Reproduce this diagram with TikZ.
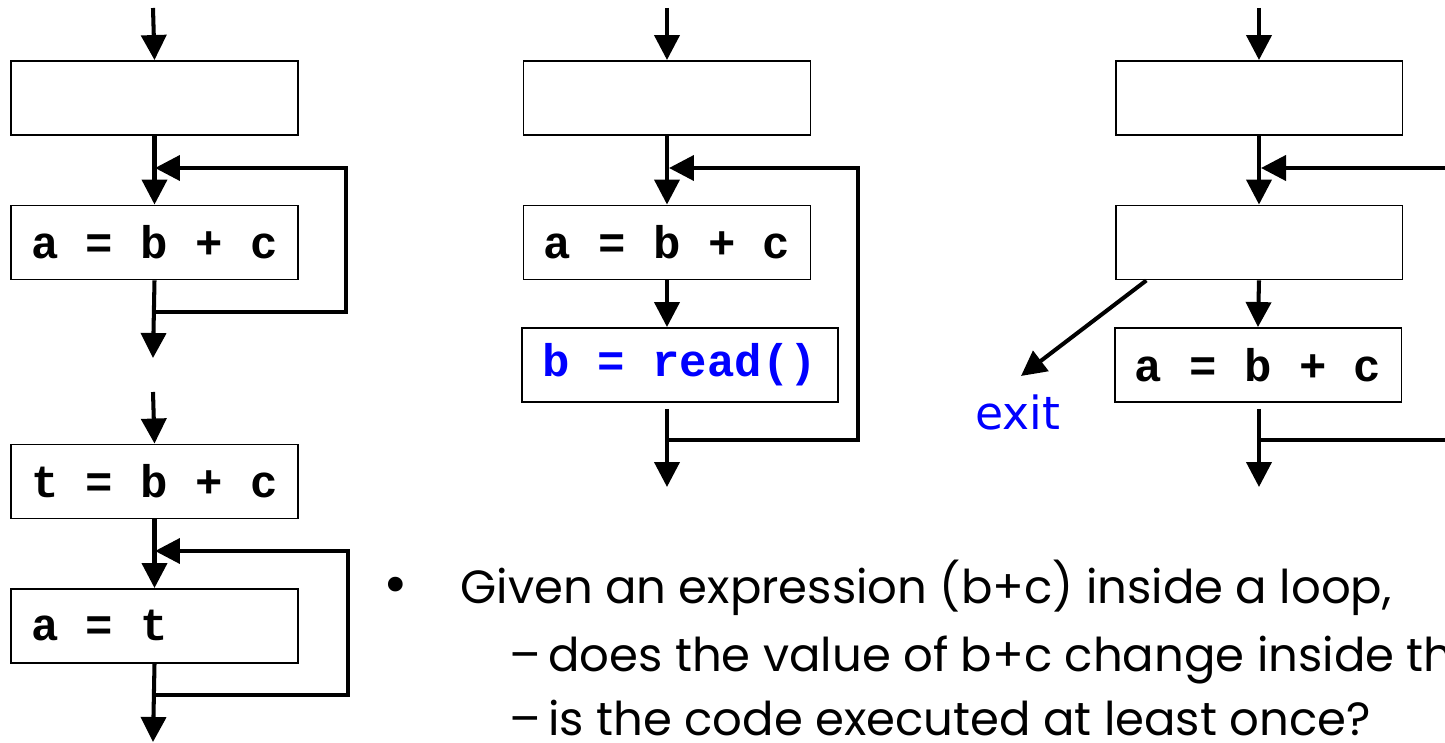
\documentclass[tikz,border=0pt]{standalone}
\usepackage{fontspec}
\setmainfont{Poppins}
\setmonofont{Liberation Mono}
\newfontfamily\exitfont{DejaVu Sans}
\usepackage{tikz}
\usetikzlibrary{arrows.meta,calc,positioning}
\definecolor{codeblue}{RGB}{0,0,255}

\begin{document}
\begin{tikzpicture}[
  x=0.02cm, y=-0.02cm,
  line join=miter,
  stmt/.style={
    rectangle, draw=black, line width=1.1pt,
    minimum width=5.74cm, minimum height=1.48cm,
    inner sep=0pt, align=center,
    font=\ttfamily\bfseries\fontsize{26}{30}\selectfont
  },
  flow/.style={-{Triangle[length=0.5cm,width=0.5cm]}, line width=2.3pt},
  bullettxt/.style={anchor=base west, inner sep=0pt, font=\fontsize{26.5}{30}\selectfont}
]
\clip (0,0) rectangle (1445,743);

% =========================================================================
% Stĺpec 1 hore: a = b + c v cykle
% =========================================================================
\coordinate (c1in) at (153,8);
\node[stmt] (c1top) at (154.5,98) {};
\node[stmt] (c1abc) at (154.5,242.5) {a = b + c};
\coordinate (c1out) at (153,358);
\coordinate (c1join) at (153,312);
\coordinate (c1entry) at (155,168);

\draw[flow] (c1in) -- (c1top.north);
\draw[flow] (c1top.south) -- (c1abc.north);
\draw[flow] (c1abc.south) -- (c1out);
\draw[flow] (c1join) -- ++(193,0) |- (c1entry);

% =========================================================================
% Stĺpec 1 dole: t = b + c pred cyklom
% =========================================================================
\coordinate (c1in2) at (153,392);
\node[stmt] (c1tbc) at (154.5,481.5) {t = b + c};
\node[stmt] (c1at) at (154.5,626) {a = t\phantom{ + c}};
\coordinate (c1out2) at (153,742);
\coordinate (c1join2) at (153,695);
\coordinate (c1entry2) at (155,551);

\draw[flow] (c1in2) -- (c1tbc.north);
\draw[flow] (c1tbc.south) -- (c1at.north);
\draw[flow] (c1at.south) -- (c1out2);
\draw[flow] (c1join2) -- ++(195,0) |- (c1entry2);

% =========================================================================
% Stĺpec 2: b sa mení v cykle
% =========================================================================
\coordinate (c2in) at (667,8);
\node[stmt] (c2top) at (667,98) {};
\node[stmt] (c2abc) at (667,242.5) {a = b + c};
\node[stmt, minimum width=6.32cm, text=codeblue] (c2read) at (680,365) {b = read()};
\coordinate (c2out) at (667,487);
\coordinate (c2join) at (667,440);
\coordinate (c2entry) at (669,168);

\draw[flow] (c2in) -- (c2top.north);
\draw[flow] (c2top.south) -- (c2abc.north);
\draw[flow] (c2abc.south) -- (c2abc.south |- c2read.north);
\draw[flow, shorten <=0.12cm] (c2abc.south |- c2read.south) -- (c2out);
\draw[flow] (c2join) -- ++(191,0) |- (c2entry);

% =========================================================================
% Stĺpec 3: test s výstupom pred a = b + c
% =========================================================================
\coordinate (c3in) at (1259,8);
\node[stmt] (c3top) at (1259,98) {};
\node[stmt] (c3test) at (1259,242.5) {};
\node[stmt] (c3abc) at (1258,365) {a = b + c};
\coordinate (c3out) at (1259,487);
\coordinate (c3join) at (1259,440);
\coordinate (c3entry) at (1261,168);
\coordinate (exitfrom) at ($(c3test.south west)!0.11!(c3test.south east)$);
\coordinate (exittip) at (1021,376);
\node[font=\exitfont\fontsize{26}{30}\selectfont, text=codeblue, inner sep=0pt] (exit) at (1018,412) {exit};

\draw[flow] (c3in) -- (c3top.north);
\draw[flow] (c3top.south) -- (c3test.north);
\draw[flow] (c3test.south) -- (c3abc.north);
\draw[flow, shorten <=0.12cm] (c3abc.south -| c3in) -- (c3out);
\draw[flow] (c3join) -- ++(220,0) |- (c3entry);
\draw[flow] (exitfrom) -- (exittip);

% =========================================================================
% Text s odrážkami
% =========================================================================
\node[bullettxt, font=\fontsize{34}{36}\selectfont] (blt) at (383,604) {•};
\node[bullettxt] (q1) at (460,603) {Given an expression (b+c) inside a loop,};
\node[bullettxt, anchor=base east] (d2) at (541,671) {–};
\node[bullettxt] (q2) at (548,671) {does the value of b+c change inside the loop?};
\node[bullettxt, anchor=base east] (d3) at (541,735) {–};
\node[bullettxt] (q3) at (548,735) {is the code executed at least once?};

\end{tikzpicture}
\end{document}
